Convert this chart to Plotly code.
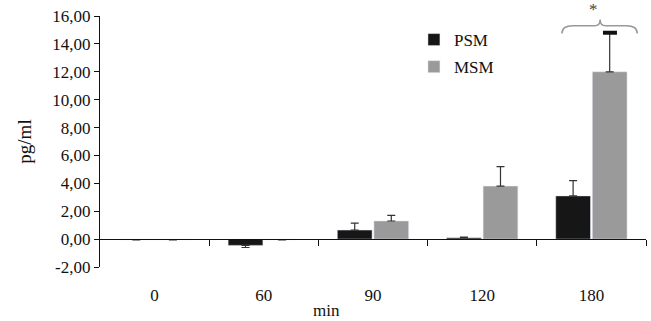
import plotly.graph_objects as go

categories = ["0", "60", "90", "120", "180"]
psm = [-0.05, -0.45, 0.65, 0.1, 3.1]
psm_err_plus = [0.0, 0.0, 0.5, 0.05, 1.1]
psm_err_minus = [0.0, 0.15, 0.0, 0.0, 0.0]
msm = [-0.05, -0.05, 1.3, 3.8, 12.0]
msm_err_plus = [0.0, 0.0, 0.4, 1.4, 2.8]
msm_err_minus = [0.0, 0.0, 0.0, 0.0, 0.0]
ytick_vals = [-2, 0, 2, 4, 6, 8, 10, 12, 14, 16]
ytick_text = ["-2,00", "0,00", "2,00", "4,00", "6,00", "8,00", "10,00", "12,00", "14,00", "16,00"]

xs = list(range(len(categories)))
font = "Liberation Serif"
y_min, y_max = -2, 16

fig = go.Figure()
fig.add_trace(go.Bar(
    name="PSM", x=xs, y=psm, marker=dict(color="#161616"), legendgroup="a",
    error_y=dict(type="data", symmetric=False, array=psm_err_plus, arrayminus=psm_err_minus,
                 color="#333333", thickness=1.2, width=4),
))
fig.add_trace(go.Bar(
    name="MSM", x=xs, y=msm, marker=dict(color="#9a9a9a"), legendgroup="b",
    error_y=dict(type="data", symmetric=False, array=msm_err_plus, arrayminus=msm_err_minus,
                 color="#333333", thickness=1.2, width=4),
))
# zero-line axis with category dividers
fig.add_trace(go.Scatter(x=[xs[0] - 0.5, xs[-1] + 0.5], y=[0, 0], xaxis="x2", mode="lines",
                         line=dict(color="rgba(0,0,0,0)"), showlegend=False, hoverinfo="skip"))

n = len(categories)
fig.update_layout(
    width=651, height=321,
    margin=dict(l=100, r=5, t=16, b=54, autoexpand=False),
    plot_bgcolor="white", paper_bgcolor="white",
    barmode="group", bargap=0.33, bargroupgap=0.05,
    font=dict(family=font, size=17, color="#111111"),
    showlegend=True,
    legend=dict(x=0.575, y=0.976, xanchor="left", yanchor="top", bgcolor="rgba(0,0,0,0)",
                font=dict(size=17, family=font), itemwidth=30, tracegroupgap=2,
                traceorder="grouped"),
    xaxis=dict(range=[-0.5, n - 0.5], tickvals=xs, ticktext=categories, showline=False,
               showgrid=False, zeroline=False, ticks="outside", ticklen=13,
               tickcolor="rgba(0,0,0,0)", tickfont=dict(size=17), automargin=False),
    xaxis2=dict(overlaying="x", anchor="free", position=(0 - y_min) / (y_max - y_min),
                range=[-0.5, n - 0.5],
                tickvals=[i + 0.5 for i in xs], showticklabels=False, ticks="outside",
                ticklen=6, tickcolor="#111111", showline=True, linecolor="#111111",
                linewidth=1.2, showgrid=False, zeroline=False, automargin=False),
    yaxis=dict(range=[y_min, y_max], tickvals=ytick_vals, ticktext=ytick_text, showline=True,
               linecolor="#111111", linewidth=1.2, ticks="outside", ticklen=5,
               tickcolor="#111111", showgrid=False, zeroline=False,
               tickfont=dict(size=17), automargin=False,
               title=dict(text="pg/ml", font=dict(size=19), standoff=15)),
)

fig.add_annotation(x=0.415, y=-0.172, xref="paper", yref="paper", text="min", showarrow=False,
                   yanchor="middle", font=dict(size=17, family=font))

# thick cap on highest MSM error bar
fig.add_trace(go.Scatter(x=[xs[4] + 0.17], y=[msm[4] + msm_err_plus[4]], mode="markers",
                         marker=dict(symbol="line-ew", size=10, line=dict(width=4, color="#111111")),
                         showlegend=False, hoverinfo="skip"))

# brace over the 180 group
x0, x1, xm = 3.73, 4.42, 4.08
yb, yt, ya = 14.75, 15.3, 15.75
path = (f"M {x0},{yb} Q {x0},{yt} {x0+0.1},{yt} L {xm-0.05},{yt} Q {xm},{yt} {xm},{ya} "
        f"Q {xm},{yt} {xm+0.05},{yt} L {x1-0.1},{yt} Q {x1},{yt} {x1},{yb}")
fig.add_shape(type="path", path=path, xref="x", yref="y", line=dict(color="#999999", width=1.5))
fig.add_annotation(x=(xm + 0.5) / n, y=(16.45 - y_min) / (y_max - y_min), xref="paper", yref="paper",
                   text="*", showarrow=False, yanchor="middle",
                   font=dict(size=17, color="#444444", family=font))

fig.write_html("out.html", config={"displayModeBar": False},
               post_script="document.body.style.margin='0';")
